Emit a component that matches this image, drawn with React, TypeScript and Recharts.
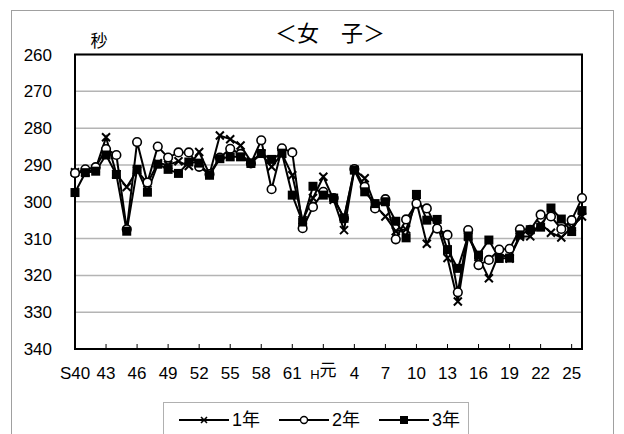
import React from "react";
import { LineChart, Line, XAxis, YAxis, CartesianGrid, ReferenceArea } from "recharts";

const categories = [
  "S40","41","42","43","44","45","46","47","48","49","50","51","52","53","54","55","56","57","58","59","60","61","62","63",
  "H元","2","3","4","5","6","7","8","9","10","11","12","13","14","15","16","17","18","19","20","21","22","23","24","25","26",
];

const year1 = [292,292,291,282.5,292.5,296,291.5,295,289.5,290,289,290.3,286.5,292.5,282,283,284.7,289,287,290.5,287,292.8,305,299,293.2,299.5,307.7,291.3,293.6,301,304,308,307.5,300,311.4,306,315.3,327.1,309.5,315,320.8,314,315.4,309.5,309.4,306,308.4,309.7,307,304];
const year2 = [292.2,291.2,290.6,285.7,287.3,307.5,283.8,294.8,285,288,286.6,286.6,290.5,292.5,288,285.6,287,289.6,283.3,296.6,285.5,286.6,307.2,301.4,297.3,299,304.5,291.1,295.9,301.8,299.3,310.2,304.8,300.5,301.8,307.3,309,324.6,307.7,317.2,315.8,313,312.8,307.5,307.6,303.5,304,307.4,305,299];
const year3 = [297.5,292.1,291.7,287.3,292.6,308,291.2,297.4,289.8,291.2,292.3,289.2,289.5,292.8,288.3,287.8,287.8,289.6,286.9,288.5,286.8,298.2,305.5,295.8,298.2,299,304.5,291.4,297.3,300.5,300,305.3,309.8,298,305,304.8,313,318.1,309.3,314.5,310.4,315.4,315.3,309,307.6,306.9,301.7,304.7,308.1,302.4];

const yTicks = [260, 270, 280, 290, 300, 310, 320, 330, 340];
const seriesNames = ["1年", "2年", "3年"];
const title = "＜女　子＞";
const unitLabel = "秒";

const data = categories.map((c, i) => ({ cat: c, y1: year1[i], y2: year2[i], y3: year3[i] }));

const FONT = "'Liberation Sans', 'Noto Sans CJK JP', sans-serif";

const CrossDot = (p: any) => {
  const { cx, cy, index } = p;
  if (cx == null || cy == null) return <g key={index} />;
  const s = 4;
  return (
    <path key={index} d={`M${cx - s},${cy - s}L${cx + s},${cy + s}M${cx - s},${cy + s}L${cx + s},${cy - s}`} stroke="#000" strokeWidth={2} fill="none" />
  );
};
const CircleDot = (p: any) => {
  const { cx, cy, index } = p;
  if (cx == null || cy == null) return <g key={index} />;
  return <circle key={index} cx={cx} cy={cy} r={4.3} fill="#fff" stroke="#000" strokeWidth={1.6} />;
};
const SquareDot = (p: any) => {
  const { cx, cy, index } = p;
  if (cx == null || cy == null) return <g key={index} />;
  return <rect key={index} x={cx - 4.5} y={cy - 4.5} width={9} height={9} fill="#000" />;
};

const XTick = (p: any) => {
  const { x, y, payload } = p;
  const v = payload.value as string;
  if (v === "H元") {
    return (
      <text x={x} y={y} dy="0.71em" textAnchor="middle" fontSize={17} fill="#000" fontFamily={FONT}>
        <tspan fontSize={13} dy="0.95em">H</tspan>
        <tspan dy="-0.2em">元</tspan>
      </text>
    );
  }
  return (
    <text x={x} y={y} dy="0.71em" textAnchor="middle" fontSize={17} fill="#000" fontFamily={FONT}>
      {v}
    </text>
  );
};

const LegendMarker = ({ kind }: { kind: number }) => (
  <svg width={50} height={14} style={{ display: "block" }}>
    <line x1={0} y1={7} x2={50} y2={7} stroke="#000" strokeWidth={2} />
    {kind === 0 && <path d="M22,4L28,10M22,10L28,4" stroke="#000" strokeWidth={1.6} />}
    {kind === 1 && <circle cx={25} cy={7} r={3.5} fill="#fff" stroke="#000" strokeWidth={1.4} />}
    {kind === 2 && <rect x={21} y={3} width={8} height={8} fill="#000" />}
  </svg>
);

export default function App() {
  return (
    <div style={{ position: "relative", width: 608, height: 426, fontFamily: FONT }}>
      <div style={{ position: "absolute", left: 3, top: 2, width: 603, height: 440, border: "1px solid #a0a0a0", boxSizing: "border-box" }} />
      <div style={{ position: "absolute", left: 222, top: 12, width: 200, textAlign: "center", fontSize: 22, lineHeight: "28px", color: "#000" }}>
        {title}
      </div>
      <div style={{ position: "absolute", left: 82, top: 24, width: 18, textAlign: "center", fontSize: 17, lineHeight: "20px", color: "#000" }}>
        {unitLabel}
      </div>
      <LineChart width={608} height={426} data={data} margin={{ top: 46.5, right: 34, left: 0, bottom: 55 }}>
        <CartesianGrid vertical={false} stroke="#b4b4b4" strokeWidth={1.5} />
        <XAxis
          dataKey="cat"
          interval={2}
          height={30}
          axisLine={false}
          tickSize={-5}
          tickMargin={23}
          tickLine={{ stroke: "#000", strokeWidth: 1 }}
          tick={<XTick />}
        />
        <YAxis
          type="number"
          domain={[260, 340]}
          ticks={yTicks}
          reversed
          width={67}
          axisLine={false}
          tickLine={false}
          tickSize={0}
          tickMargin={23}
          tick={{ fontSize: 17, fill: "#000", fontFamily: FONT }}
        />
        <ReferenceArea x1={categories[0]} x2={categories[categories.length - 1]} y1={260} y2={340} fill="none" stroke="#000" strokeWidth={2} />
        <Line type="linear" dataKey="y1" name={seriesNames[0]} stroke="#000" strokeWidth={2} dot={CrossDot} isAnimationActive={false} />
        <Line type="linear" dataKey="y2" name={seriesNames[1]} stroke="#000" strokeWidth={2} dot={CircleDot} isAnimationActive={false} />
        <Line type="linear" dataKey="y3" name={seriesNames[2]} stroke="#000" strokeWidth={2} dot={SquareDot} isAnimationActive={false} />
      </LineChart>
      <div style={{ position: "absolute", left: 155, top: 394, width: 306, height: 40, border: "1px solid #b0b0b0", boxSizing: "border-box", background: "#fff" }}>
        {seriesNames.map((n, i) => (
          <div key={n} style={{ position: "absolute", left: 15 + i * 100, top: 7, display: "flex", alignItems: "center", height: 20 }}>
            <LegendMarker kind={i} />
            <span style={{ marginLeft: 3, fontSize: 18, lineHeight: "20px", color: "#000" }}>{n}</span>
          </div>
        ))}
      </div>
    </div>
  );
}
